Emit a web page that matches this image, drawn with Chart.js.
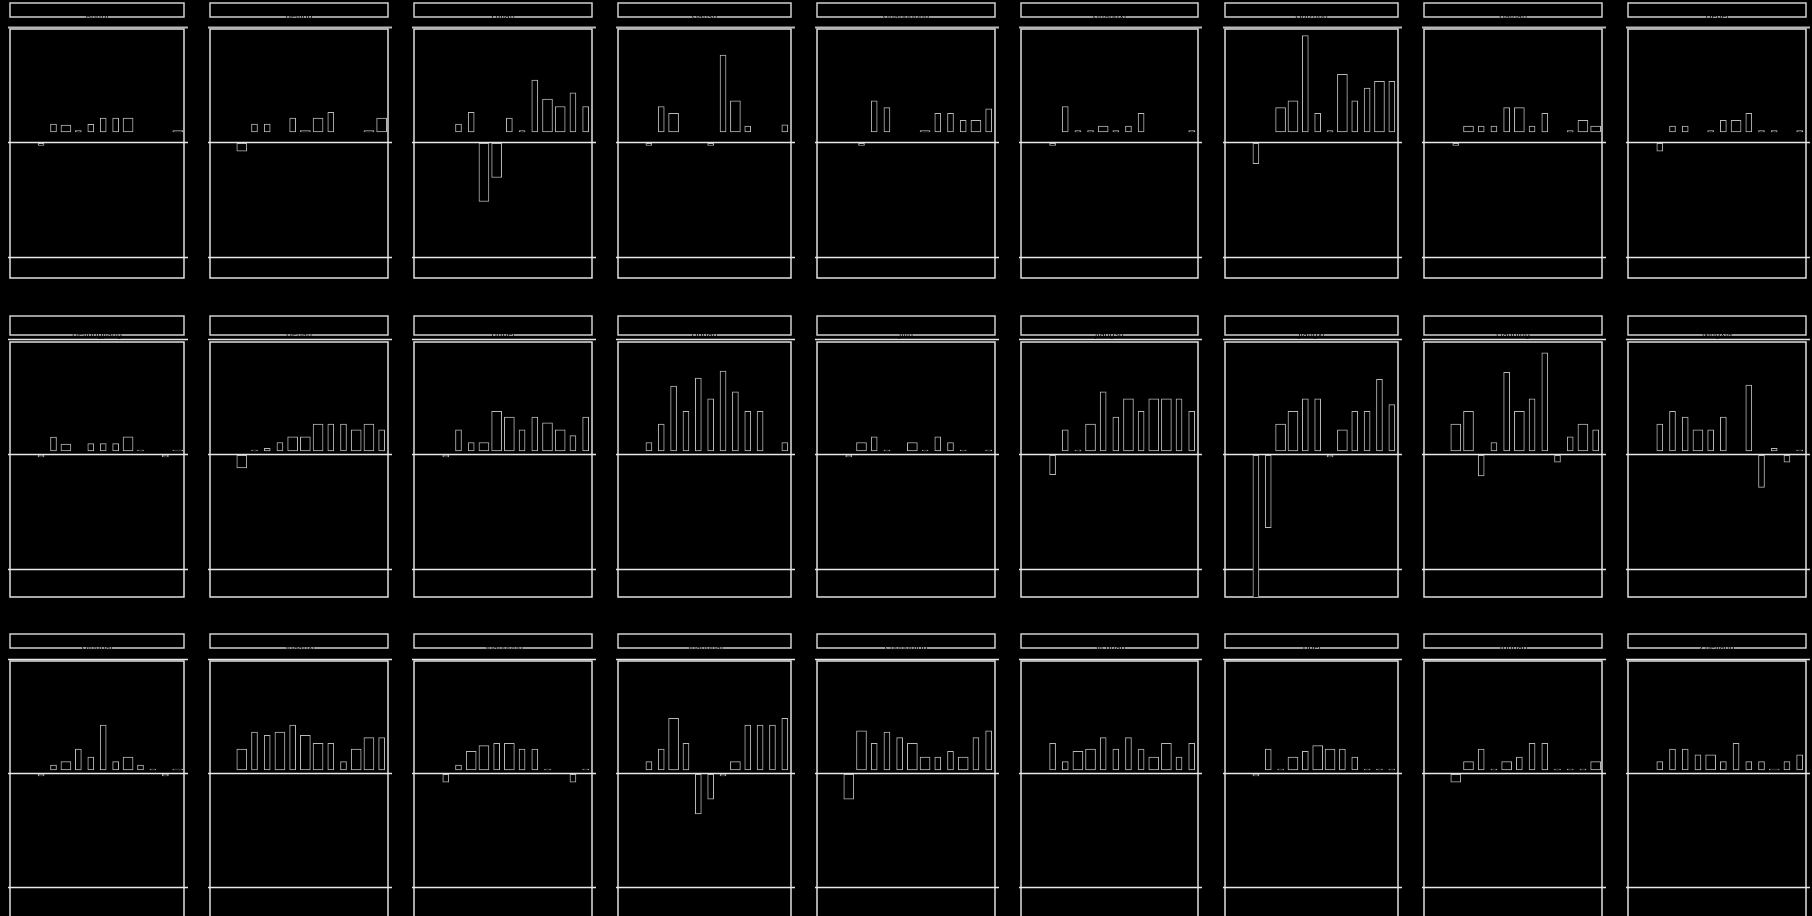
<!DOCTYPE html>
<html><head><meta charset="utf-8">
<script src="https://cdn.jsdelivr.net/npm/chart.js@4.4.1/dist/chart.umd.min.js"></script>
<style>
html,body{margin:0;padding:0;background:#000;overflow:hidden;width:1812px;height:916px;position:relative}
canvas{position:absolute}
</style></head><body>
<script>
// ---- data ----
const years = ['2007','2008','2009','2010','2011','2012','2013','2014','2015','2016','2017','2018','2019','2020'];
const provinces = ['Anhui','Beijing','Fujian','Gansu','Guangdong','Guangxi','Guizhou','Hainan','Hebei',
  'Heilongjiang','Henan','Hubei','Hunan','Jilin','Jiangsu','Jiangxi','Liaoning','Ningxia',
  'Qinghai','Shaanxi','Shandong','Shanghai','Chongqing','Sichuan','Tibet','Yunnan','Zhejiang'];
const _ = null;
// series A (narrow bars) and series B (wide bars), one value per year
const A01=[_,_,-0.03,0.157,_,0.1,0.155,0.21,0.21,_,_,_,_,_];
const B01=[_,_,_,_,0.148,_,_,_,_,0.21,_,_,_,0.1];
const A02=[_,_,_,0.157,0.157,_,0.21,_,_,0.26,_,_,_,_];
const B02=[_,_,-0.08,_,_,_,_,0.1,0.21,_,_,_,0.1,0.21];
const A03=[_,_,_,0.157,0.26,_,_,0.21,0.1,0.54,_,_,0.43,0.31];
const B03=[_,_,_,_,_,-0.52,-0.31,_,_,_,0.375,0.31,_,_];
const A04=[_,_,-0.03,0.31,_,_,_,-0.03,0.76,_,0.14,_,_,0.15];
const B04=[_,_,_,_,0.25,_,_,_,_,0.36,_,_,_,_];
const A05=[_,_,_,-0.03,0.36,0.30,_,_,_,0.25,0.25,0.19,_,0.29];
const B05=[_,_,_,_,_,_,_,_,0.1,_,_,_,0.19,_];
const A06=[_,_,-0.03,0.31,0.1,0.1,_,0.1,0.14,0.25,_,_,_,0.1];
const B06=[_,_,_,_,_,_,0.14,_,_,_,_,_,_,_];
const A07=[_,_,-0.19,_,_,_,0.93,0.25,0.1,_,0.36,0.47,_,0.53];
const B07=[_,_,_,_,0.30,0.36,_,_,_,0.59,_,_,0.53,_];
const A08=[_,_,-0.03,_,0.14,0.14,0.30,_,0.14,0.25,_,0.1,_,_];
const B08=[_,_,_,0.14,_,_,_,0.30,_,_,_,_,0.19,0.14];
const A09=[_,_,-0.08,0.14,0.14,_,0.1,0.19,_,0.25,0.1,0.1,_,0.1];
const B09=[_,_,_,_,_,_,_,_,0.19,_,_,_,_,_];
const A10=[_,_,-0.025,0.148,_,_,0.09,0.09,0.09,_,0.035,_,-0.025,_];
const B10=[_,_,_,_,0.087,_,_,_,_,0.15,_,_,_,0.035];
const A11=[_,_,_,0.035,0.05,0.10,_,_,_,0.26,0.26,_,_,0.21];
const B11=[_,_,-0.12,_,_,_,0.15,0.15,0.26,_,_,0.21,0.26,_];
const A12=[_,_,-0.025,0.21,0.10,_,_,_,0.21,0.32,_,_,0.16,0.32];
const B12=[_,_,_,_,_,0.10,0.37,0.32,_,_,0.27,0.21,_,_];
const A13=[_,_,0.10,0.26,0.59,0.37,0.66,0.48,0.72,0.54,0.37,0.37,_,0.10];
const B13=[_,_,_,_,_,_,_,_,_,_,_,_,_,_];
const A14=[_,_,-0.025,_,0.15,0.035,_,_,0.035,0.15,0.10,0.035,_,0.035];
const B14=[_,_,_,0.10,_,_,_,0.10,_,_,_,_,_,_];
const A15=[_,_,-0.18,0.21,0.035,_,0.54,0.32,_,0.37,_,_,0.48,0.37];
const B15=[_,_,_,_,_,0.26,_,_,0.48,_,0.48,0.48,_,_];
const A16=[_,_,-1.25,-0.64,_,_,0.48,0.48,-0.025,_,0.37,0.37,0.65,0.43];
const B16=[_,_,_,_,0.26,0.37,_,_,_,0.21,_,_,_,_];
const A17=[_,_,_,_,-0.19,0.10,0.71,_,0.48,0.88,-0.07,0.15,_,0.21];
const B17=[_,_,0.26,0.37,_,_,_,0.37,_,_,_,_,0.26,_];
const A18=[_,_,0.26,0.37,0.32,_,0.21,0.32,_,0.60,-0.29,0.05,-0.07,0.035];
const B18=[_,_,_,_,_,0.21,_,_,_,_,_,_,_,_];
const A19=[_,_,-0.025,0.07,_,0.21,0.14,0.42,0.10,_,0.07,0.035,-0.025,_];
const B19=[_,_,_,_,0.10,_,_,_,_,0.14,_,_,_,0.035];
const A20=[_,_,_,0.36,0.33,_,0.42,_,_,0.26,0.10,_,_,0.31];
const B20=[_,_,0.21,_,_,0.36,_,0.33,0.26,_,_,0.21,0.31,_];
const A21=[_,_,-0.08,0.07,_,_,0.26,_,0.21,0.21,0.035,_,-0.08,0.035];
const B21=[_,_,_,_,0.19,0.24,_,0.26,_,_,_,_,_,_];
const A22=[_,_,0.10,0.21,_,0.26,-0.36,-0.23,-0.025,_,0.42,0.42,0.42,0.48];
const B22=[_,_,_,_,0.48,_,_,_,_,0.10,_,_,_,_];
const A23=[_,_,_,_,0.26,0.36,0.31,_,_,0.14,0.19,_,0.31,0.37];
const B23=[_,_,-0.23,0.37,_,_,_,0.26,0.14,_,_,0.14,_,_];
const A24=[_,_,0.26,0.10,_,_,0.31,0.21,0.31,0.21,_,_,0.14,0.26];
const B24=[_,_,_,_,0.19,0.21,_,_,_,_,0.14,0.26,_,_];
const A25=[_,_,-0.025,0.21,0.035,_,0.19,_,_,0.21,0.14,0.035,0.035,0.035];
const B25=[_,_,_,_,_,0.14,_,0.24,0.21,_,_,_,_,_];
const A26=[_,_,_,_,0.21,0.035,_,0.14,0.26,0.26,0.035,0.035,0.035,_];
const B26=[_,_,-0.08,0.10,_,_,0.10,_,_,_,_,_,_,0.10];
const A27=[_,_,0.10,0.21,0.21,0.16,_,0.10,0.26,0.10,0.10,_,0.10,0.16];
const B27=[_,_,_,_,_,_,0.16,_,_,_,_,0.035,_,_];
const gridValues = [1, 0, -1];

const seriesA=[A01,A02,A03,A04,A05,A06,A07,A08,A09,A10,A11,A12,A13,A14,A15,A16,A17,A18,A19,A20,A21,A22,A23,A24,A25,A26,A27];
const seriesB=[B01,B02,B03,B04,B05,B06,B07,B08,B09,B10,B11,B12,B13,B14,B15,B16,B17,B18,B19,B20,B21,B22,B23,B24,B25,B26,B27];

// ---- layout ----
const colLeft  = [10,210,414,618,817,1021,1225,1424,1628];
const colRight = [184,388,592,791,995,1198,1398,1602,1806];
const rowGeo = [
  {tTop:3,  tBot:17,  bTop:29,  bBot:278, zero:142, unit:114.5, base:0.087, topLine:'#b8b8b8', topW:2},
  {tTop:316,tBot:335, bTop:342, bBot:597, zero:454, unit:115,   base:0.026, topLine:'#e8e8e8', topW:1.5},
  {tTop:634,tBot:648, bTop:661, bBot:918, zero:773, unit:114,   base:0.026, topLine:'#e8e8e8', topW:1.5}
];

function toBars(vals, base){
  return vals.map(v => v == null ? null : (v > 0 ? [base, v] : [-0.012, v]));
}

const panelPlugin = {
  id: 'panel',
  beforeDatasetsDraw(chart, args, opts){
    const {ctx, chartArea: ca, scales:{y}} = chart;
    ctx.save();
    // title strip
    ctx.strokeStyle = '#d0d0d0'; ctx.lineWidth = 1.5;
    ctx.strokeRect(ca.left, opts.tTop, ca.right - ca.left, opts.tBot - opts.tTop);
    // panel box
    ctx.strokeStyle = '#e0e0e0'; ctx.lineWidth = 1.5;
    ctx.strokeRect(ca.left, ca.top, ca.right - ca.left, ca.bottom - ca.top);
    // reference lines
    gridValues.forEach(v => {
      const py = Math.round(y.getPixelForValue(v)) + 0.5;
      ctx.beginPath();
      ctx.strokeStyle = v === 1 ? opts.topLine : '#e8e8e8';
      ctx.lineWidth = v === 1 ? opts.topW : 1.5;
      ctx.moveTo(ca.left - 2, py); ctx.lineTo(ca.right + 4, py);
      ctx.stroke();
    });
    ctx.restore();
  },
  afterDatasetsDraw(chart, args, opts){
    const {ctx, chartArea: ca} = chart;
    ctx.save();
    ctx.fillStyle = '#000';
    ctx.font = '8px "DejaVu Sans"';
    ctx.textAlign = 'center'; ctx.textBaseline = 'middle';
    ctx.fillText(opts.title, (ca.left + ca.right) / 2, opts.tBot);
    ctx.restore();
  }
};

provinces.forEach((name, i) => {
  const r = Math.floor(i / 9), c = i % 9, g = rowGeo[r];
  const cTop = g.tTop - 4, cLeft = colLeft[c] - 10;
  const w = colRight[c] - colLeft[c] + 20;
  const h = g.bBot - cTop + 4;
  const cv = document.createElement('canvas');
  cv.width = w; cv.height = h;
  cv.style.left = cLeft + 'px'; cv.style.top = cTop + 'px';
  cv.style.width = w + 'px'; cv.style.height = h + 'px';
  document.body.appendChild(cv);
  const common = {backgroundColor:'#000', borderColor:'#b8b8b8', borderWidth:1, borderSkipped:false, grouped:false};
  new Chart(cv, {
    type: 'bar',
    data: {
      labels: years,
      datasets: [
        Object.assign({label:'B', data: toBars(seriesB[i], g.base), barThickness:10}, common),
        Object.assign({label:'A', data: toBars(seriesA[i], g.base), barThickness:6}, common)
      ]
    },
    options: {
      responsive:false, maintainAspectRatio:false, animation:false, devicePixelRatio:1, events:[],
      layout: {padding:{left:10, right:10, top:g.bTop - cTop, bottom:4}},
      scales: {
        x: {display:false, offset:true, grid:{display:false}},
        y: {display:false, min: -(g.bBot - g.zero) / g.unit, max: (g.zero - g.bTop) / g.unit}
      },
      plugins: {
        legend:{display:false}, tooltip:{enabled:false},
        panel: {title:name, tTop:g.tTop - cTop, tBot:g.tBot - cTop, topLine:g.topLine, topW:g.topW}
      }
    },
    plugins: [panelPlugin]
  });
});
</script>
</body></html>
